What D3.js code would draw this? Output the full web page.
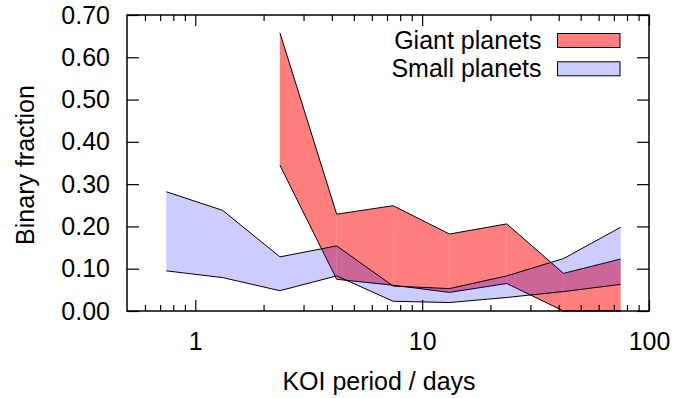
<!DOCTYPE html>
<html><head><meta charset="utf-8">
<script src="https://cdn.jsdelivr.net/npm/d3@7"></script>
<style>body{margin:0;background:#fff} text{font-family:"Liberation Sans",Arial,sans-serif}</style>
</head><body><svg id="c" width="691" height="398"></svg>
<script>
// ---- data ----
const periods   = [0.745, 1.32, 2.36, 4.2, 7.45, 13.2, 23.6, 42, 75];
const giantLow  = [null, null, 0.345, 0.075, 0.061, 0.044, 0.065, 0.000, 0.000];
const giantHigh = [null, null, 0.658, 0.229, 0.249, 0.182, 0.206, 0.089, 0.123];
const smallLow  = [0.095, 0.079, 0.048, 0.083, 0.023, 0.020, 0.032, 0.046, 0.063];
const smallHigh = [0.282, 0.238, 0.128, 0.154, 0.059, 0.053, 0.083, 0.124, 0.198];
const seriesNames = ["Giant planets", "Small planets"];
const yTicks = [0, 0.1, 0.2, 0.3, 0.4, 0.5, 0.6, 0.7];
const xMajorTicks = [1, 10, 100];
const xMinorTicks = [0.6, 0.7, 0.8, 0.9, 2, 3, 4, 5, 6, 7, 8, 9, 20, 30, 40, 50, 60, 70, 80, 90];
const xLabel = "KOI period / days";
const yLabel = "Binary fraction";

// ---- layout ----
const L = 127, R = 649, T = 15, B = 311;
const svg = d3.select("#c");
const x = d3.scaleLog().domain([0.5, 100]).range([L, R]);
const y = d3.scaleLinear().domain([0, 0.7]).range([B, T]);
const FS = 25;

const series = [
  {name: seriesNames[0], low: giantLow, high: giantHigh, fill: "rgba(255,0,0,0.5)"},
  {name: seriesNames[1], low: smallLow, high: smallHigh, fill: "rgba(0,0,255,0.2)"}
];

const gData = svg.append("g");
series.forEach(s => {
  const pts = periods.map((p, i) => ({p, lo: s.low[i], hi: s.high[i]})).filter(d => d.lo !== null);
  const area = d3.area().x(d => x(d.p)).y0(d => y(d.lo)).y1(d => y(d.hi));
  for (let i = 0; i < pts.length - 1; i++) {
    gData.append("path").attr("d", area([pts[i], pts[i+1]])).attr("fill", s.fill).attr("stroke", "none");
  }
  const lineHi = d3.line().x(d => x(d.p)).y(d => y(d.hi));
  const lineLo = d3.line().x(d => x(d.p)).y(d => y(d.lo));
  gData.append("path").attr("d", lineHi(pts)).attr("fill", "none").attr("stroke", "#000").attr("stroke-width", 1);
  gData.append("path").attr("d", lineLo(pts)).attr("fill", "none").attr("stroke", "#000").attr("stroke-width", 1);
});

// ---- axes ----
function style(g) {
  g.select(".domain").remove();
  g.selectAll("line").attr("stroke", "#000").attr("stroke-width", 1.2);
  g.selectAll("text").attr("font-size", FS).attr("fill", "#000").attr("font-family", '"Liberation Sans",Arial,sans-serif');
}
svg.append("g").attr("transform", `translate(0,${B})`)
  .call(d3.axisBottom(x).tickValues(xMajorTicks).tickSize(-11).tickPadding(21).tickFormat(d3.format("d"))).call(style);
svg.append("g").attr("transform", `translate(0,${B})`)
  .call(d3.axisBottom(x).tickValues(xMinorTicks).tickSize(-6).tickFormat("")).call(style);
svg.append("g").attr("transform", `translate(0,${T})`)
  .call(d3.axisTop(x).tickValues(xMajorTicks).tickSize(-11).tickFormat("")).call(style);
svg.append("g").attr("transform", `translate(0,${T})`)
  .call(d3.axisTop(x).tickValues(xMinorTicks).tickSize(-6).tickFormat("")).call(style);
svg.append("g").attr("transform", `translate(${L},0)`)
  .call(d3.axisLeft(y).tickValues(yTicks).tickSize(-12).tickPadding(17).tickFormat(d3.format(".2f"))).call(style);
svg.append("g").attr("transform", `translate(${R},0)`)
  .call(d3.axisRight(y).tickValues(yTicks).tickSize(-12).tickFormat("")).call(style);

// frame
svg.append("rect").attr("x", L).attr("y", T).attr("width", R - L).attr("height", B - T)
  .attr("fill", "none").attr("stroke", "#000").attr("stroke-width", 1.5);

// axis labels
svg.append("text").attr("x", 379).attr("y", 390).attr("text-anchor", "middle")
  .attr("font-size", FS).text(xLabel);
svg.append("text").attr("transform", "translate(34,165) rotate(-90)").attr("text-anchor", "middle")
  .attr("font-size", FS).text(yLabel);

// legend
series.forEach((s, i) => {
  const cy = 40.5 + i * 28.3;
  svg.append("text").attr("x", 541.5).attr("y", cy + 8.5).attr("text-anchor", "end")
    .attr("font-size", FS).text(s.name);
  svg.append("rect").attr("x", 557.5).attr("y", cy - 7).attr("width", 62.5).attr("height", 14)
    .attr("fill", s.fill).attr("stroke", "#000").attr("stroke-width", 1);
});
</script></body></html>
